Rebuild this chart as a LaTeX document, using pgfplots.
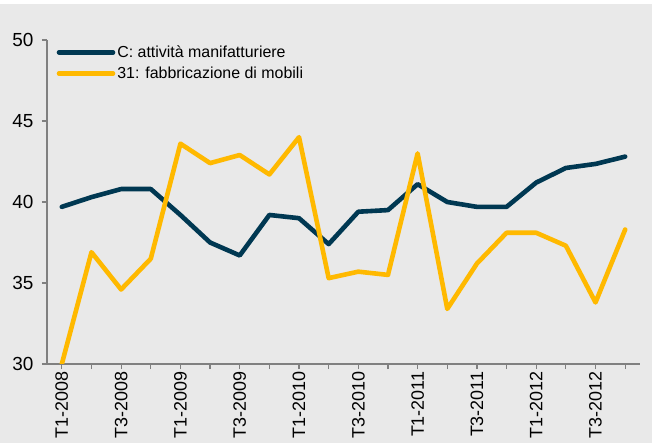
\documentclass[border=0pt]{standalone}
\usepackage{fontspec}
\setmainfont{Liberation Sans}
\usepackage{pgfplots}
\pgfplotsset{compat=1.18}
\definecolor{bg}{RGB}{233,233,233}
\definecolor{navy}{RGB}{0,56,82}
\definecolor{gold}{RGB}{255,185,0}
\definecolor{axgray}{RGB}{128,128,128}
\begin{document}
\begin{tikzpicture}
\useasboundingbox (0,0) rectangle (652bp,443bp);
\fill[bg] (0,0) rectangle (652bp,439bp);
\begin{axis}[
    at={(47bp,79bp)}, anchor=south west,
    scale only axis,
    width=593bp, height=324bp,
    xmin=-0.5, xmax=19.5,
    ymin=30, ymax=50,
    ytick={30,35,40,45,50},
    xtick={0,...,19},
    xticklabels={T1-2008,{},T3-2008,{},T1-2009,{},T3-2009,{},T1-2010,{},
                 T3-2010,{},T1-2011,{},T3-2011,{},T1-2012,{},T3-2012,{}},
    axis x line=bottom, axis y line=left,
    axis line style={-, axgray, line width=1.2bp},
    tick style={axgray, line width=1.2bp},
    major tick length=5bp,
    tick align=outside,
    /pgf/number format/assume math mode=true,
    tick label style={font=\fontsize{19}{22}\selectfont, black},
    x tick label style={rotate=90, anchor=east, font=\fontsize{18}{21}\selectfont},
    xticklabel shift=-1bp,
    y tick label style={xshift=-5bp},
    legend style={
        at={(0.011,0.995)}, anchor=north west,
        draw=none, fill=none,
        font=\fontsize{16}{19}\selectfont,
        row sep=4bp
    },
    legend cell align=left,
    legend image code/.code={\draw[#1] (0bp,0bp) -- (54bp,0bp);},
]

% C: attività manifatturiere
\addplot[navy, line width=4.6bp, line join=round, line cap=round]
coordinates {
    (0,39.7) (1,40.3) (2,40.8) (3,40.8) (4,39.2)
    (5,37.5) (6,36.7) (7,39.2) (8,39.0) (9,37.4)
    (10,39.4) (11,39.5) (12,41.1) (13,40.0) (14,39.7)
    (15,39.7) (16,41.2) (17,42.1) (18,42.35) (19,42.8)
};
\addlegendentry{C: attività manifatturiere}

% 31: fabbricazione di mobili
\addplot[gold, line width=4.6bp, line join=round, line cap=round]
coordinates {
    (0,30.0) (1,36.9) (2,34.6) (3,36.5) (4,43.6)
    (5,42.4) (6,42.9) (7,41.7) (8,44.0) (9,35.3)
    (10,35.7) (11,35.5) (12,43.0) (13,33.4) (14,36.2)
    (15,38.1) (16,38.1) (17,37.3) (18,33.8) (19,38.3)
};
\addlegendentry{31: fabbricazione di mobili}
\end{axis}
\end{tikzpicture}
\end{document}
